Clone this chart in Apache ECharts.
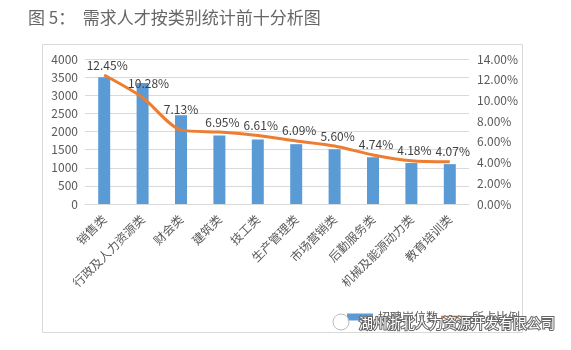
<!DOCTYPE html>
<html><head><meta charset="utf-8">
<script src="https://cdn.jsdelivr.net/npm/echarts@6/dist/echarts.min.js"></script>
<style>html,body{margin:0;padding:0;background:#fff}#c{width:571px;height:350px}</style>
</head><body><div id="c"></div>
<script>
const categories = ['销售类','行政及人力资源类','财会类','建筑类','技工类','生产管理类','市场营销类','后勤服务类','机械及能源动力类','教育培训类'];
const positions = [3500, 3340, 2450, 1890, 1780, 1650, 1510, 1290, 1130, 1100];
const ratios = [12.45, 10.28, 7.13, 6.95, 6.61, 6.09, 5.60, 4.74, 4.18, 4.07];
const leftTicks = [0, 4000, 500];
const rightTicks = [0, 14, 2];
const titleText = '图 5：  需求人才按类别统计前十分析图';
const legendNames = ['招聘岗位数', '所占比例'];
const watermark = '湖州浙北人力资源开发有限公司';

const chart = echarts.init(document.getElementById('c'));
const font = '"Noto Sans CJK SC","Noto Sans",sans-serif';
// labels in the source were hand-moved for the 2nd and 3rd points
const liftedLabels = { 1: [6, -4], 2: [0, -11] };
const lineData = ratios.map((v, i) => liftedLabels[i] ? { value: v, label: { offset: liftedLabels[i] } } : v);
chart.setOption({
  animation: false,
  textStyle: { fontFamily: font },
  title: { text: titleText, left: 23, top: 4, textStyle: { fontSize: 17, fontWeight: 'normal', color: '#666', fontFamily: font } },
  grid: { left: 85, right: 102, top: 59, bottom: 146 },
  legend: {
    left: 342, top: 306, itemGap: 3, itemWidth: 26, itemHeight: 7,
    textStyle: { fontSize: 12, color: '#595959' },
    data: [{ name: legendNames[0], icon: 'rect' }, { name: legendNames[1], icon: 'path://M0,0 L30,0 L30,3 L0,3 Z' }]
  },
  xAxis: {
    type: 'category', data: categories,
    axisLine: { lineStyle: { color: '#d9d9d9' } },
    axisTick: { show: false },
    axisLabel: { rotate: 45, fontSize: 12, color: '#595959', interval: 0, margin: 13 }
  },
  yAxis: [
    { type: 'value', min: leftTicks[0], max: leftTicks[1], interval: leftTicks[2],
      axisLine: { show: false }, axisTick: { show: false },
      axisLabel: { fontSize: 12, color: '#595959', margin: 7, formatter: v => String(v) },
      splitLine: { lineStyle: { color: '#d9d9d9' } } },
    { type: 'value', min: rightTicks[0], max: rightTicks[1], interval: rightTicks[2],
      axisLine: { show: false }, axisTick: { show: false },
      axisLabel: { fontSize: 12, color: '#595959', margin: 8, formatter: v => v.toFixed(2) + '%' },
      splitLine: { show: false } }
  ],
  series: [
    { name: legendNames[0], type: 'bar', data: positions, barWidth: 12, itemStyle: { color: '#5B9BD5' } },
    { name: legendNames[1], type: 'line', yAxisIndex: 1, data: lineData, smooth: 0.25,
      symbol: 'circle', symbolSize: 0.1, showSymbol: true,
      lineStyle: { color: '#ED7D31', width: 3 }, itemStyle: { color: '#ED7D31' },
      label: { show: true, position: 'top', distance: 4, offset: [3, 0], fontSize: 12, color: '#404040', formatter: p => Number(p.value).toFixed(2) + '%' } }
  ],
  graphic: [
    { type: 'rect', shape: { x: 42.5, y: 44.5, width: 480, height: 288 }, style: { fill: 'none', stroke: '#d9d9d9', lineWidth: 1 }, z: -1 },
    { type: 'circle', shape: { cx: 341, cy: 322, r: 8 }, style: { fill: 'rgba(255,255,255,0.8)', stroke: '#bbb', lineWidth: 1 }, z: 100 },
    { type: 'text', left: 358, top: 315, z: 101,
      style: { text: watermark, fontSize: 14, fill: '#fff', stroke: '#666', lineWidth: 2, fontFamily: font } }
  ]
});
</script></body></html>
